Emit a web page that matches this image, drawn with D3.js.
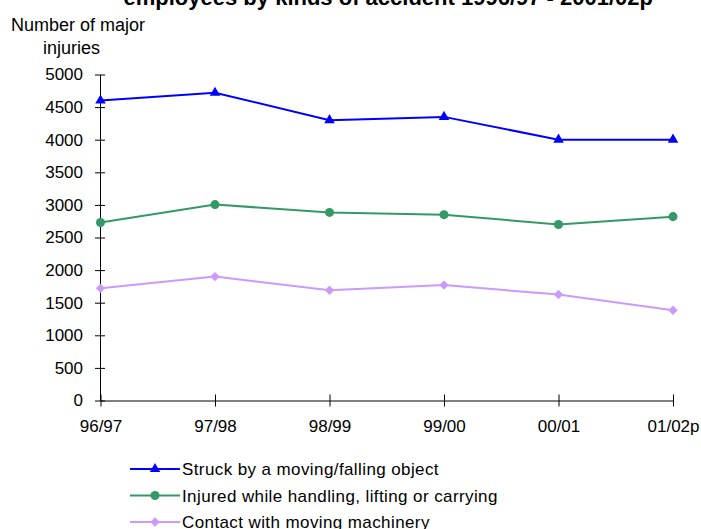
<!DOCTYPE html>
<html>
<head>
<meta charset="utf-8">
<script src="https://cdn.jsdelivr.net/npm/d3@7"></script>
<style>
html,body{margin:0;padding:0;background:#fff;}
svg{display:block;font-family:"Liberation Sans",Arial,sans-serif;}
</style>
</head>
<body>
<svg id="chart" width="701" height="529"></svg>
<script>
const categories = ["96/97","97/98","98/99","99/00","00/01","01/02p"];
const struck = [4600, 4720, 4300, 4350, 4000, 4000];
const handling = [2730, 3005, 2885, 2850, 2700, 2820];
const machinery = [1720, 1900, 1690, 1770, 1625, 1385];
const yTicks = [0,500,1000,1500,2000,2500,3000,3500,4000,4500,5000];
const seriesNames = ["Struck by a moving/falling object","Injured while handling, lifting or carrying","Contact with moving machinery"];
const seriesColors = ["#0000FF","#339966","#CC99FF"];
const titleText = "employees by kinds of accident 1996/97 - 2001/02p";
const yTitle = ["Number of major","injuries"];

const series = [struck, handling, machinery];
const svg = d3.select("#chart");
const x = d3.scalePoint().domain(categories).range([100.5, 673]);
const y = d3.scaleLinear().domain([0,5000]).range([400.5, 74.5]);

function markerPath(k, scale){
  if(k===0) return d3.symbol().type(d3.symbolTriangle).size(48*scale)();
  if(k===1) return d3.symbol().type(d3.symbolCircle).size(64*scale)();
  return d3.symbol().type(d3.symbolSquare).size(44*scale)();
}
function markerRot(k){ return k===2 ? " rotate(45)" : ""; }

// title (its first line lies above the visible area, as in the reference)
svg.append("text").attr("x", 653).attr("y", 5).attr("text-anchor","end")
  .attr("font-size", 22).attr("font-weight","bold").text(titleText);

svg.append("text").attr("x", 11).attr("y", 31).attr("font-size", 18).text(yTitle[0]);
svg.append("text").attr("x", 43).attr("y", 53.5).attr("font-size", 18).text(yTitle[1]);

// y axis
const yAxis = d3.axisLeft(y).tickValues(yTicks).tickFormat(d3.format("d"))
  .tickSize(5).tickPadding(12).tickSizeOuter(0);
const gy = svg.append("g").attr("transform","translate(100,0)").call(yAxis);
gy.selectAll(".tick line").attr("x2", 5).attr("x1",-5).attr("stroke","#000");
gy.select(".domain").attr("stroke","#000");
gy.selectAll("text").attr("font-size", 17).attr("font-family","Liberation Sans, Arial, sans-serif").attr("fill","#000");

// x axis
const xAxis = d3.axisBottom(x).tickSize(6).tickPadding(13.5).tickSizeOuter(0);
const gx = svg.append("g").attr("transform",`translate(0,${y(0)})`).call(xAxis);
gx.selectAll(".tick line").attr("y1",-6).attr("y2",6).attr("stroke","#000");
gx.select(".domain").attr("stroke","#000");
gx.selectAll("text").attr("font-size", 17).attr("font-family","Liberation Sans, Arial, sans-serif").attr("fill","#000");

const line = d3.line().x((d,i)=>x(categories[i])).y(d=>y(d));
series.forEach((s,k)=>{
  svg.append("path").datum(s).attr("d", line).attr("fill","none")
    .attr("stroke", seriesColors[k]).attr("stroke-width", 2);
  svg.selectAll(null).data(s).enter().append("path")
    .attr("d", markerPath(k,1))
    .attr("transform",(d,i)=>`translate(${x(categories[i])},${y(d)})${markerRot(k)}`)
    .attr("fill", seriesColors[k]);
});

// legend
const legY = [469, 495.5, 522];
seriesNames.forEach((n,k)=>{
  const g = svg.append("g");
  g.append("line").attr("x1",130).attr("x2",180).attr("y1",legY[k]).attr("y2",legY[k])
    .attr("stroke",seriesColors[k]).attr("stroke-width",2);
  g.append("path").attr("d", markerPath(k,1))
    .attr("transform",`translate(155,${legY[k]})${markerRot(k)}`).attr("fill",seriesColors[k]);
  g.append("text").attr("x",182).attr("y",legY[k]+6).attr("font-size",17)
    .attr("letter-spacing","0.4px").text(n);
});
</script>
</body>
</html>
